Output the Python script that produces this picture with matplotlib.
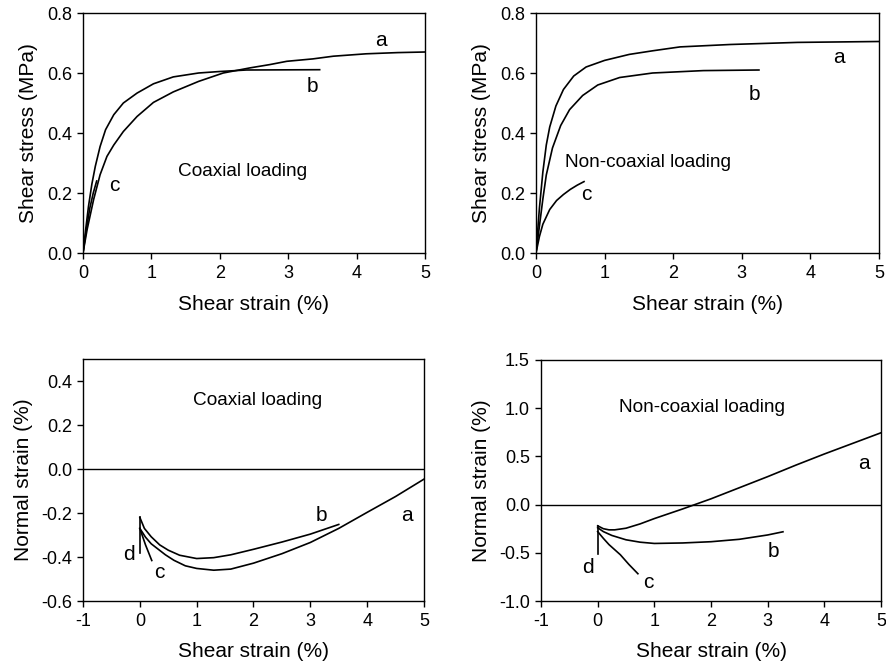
import matplotlib
matplotlib.use("Agg")
import matplotlib.pyplot as plt

plt.rcParams['font.family'] = ['Liberation Sans', 'DejaVu Sans']

# ---------------- Data ----------------
# Top-left: coaxial loading, shear stress (MPa) vs shear strain (%)
tl_a_x = [0, 0.06, 0.155, 0.25, 0.35, 0.45, 0.59, 0.79, 1.03, 1.32, 1.69, 2.05, 2.44, 2.73, 2.98, 3.36, 3.66, 4.14, 4.6, 5.0]
tl_a_y = [0, 0.078, 0.178, 0.261, 0.322, 0.36, 0.405, 0.455, 0.502, 0.537, 0.572, 0.60, 0.617, 0.628, 0.639, 0.647, 0.656, 0.664, 0.668, 0.67]
tl_b_x = [0, 0.04, 0.08, 0.13, 0.18, 0.25, 0.33, 0.45, 0.59, 0.79, 1.03, 1.32, 1.69, 2.0, 2.39, 3.46]
tl_b_y = [0, 0.08, 0.155, 0.23, 0.289, 0.355, 0.411, 0.461, 0.50, 0.533, 0.564, 0.587, 0.60, 0.605, 0.61, 0.611]
tl_c_x = [0, 0.05, 0.1, 0.15, 0.2]
tl_c_y = [0, 0.08, 0.15, 0.2, 0.24]

# Top-right: non-coaxial loading
tr_a_x = [0, 0.05, 0.1, 0.15, 0.2, 0.29, 0.4, 0.55, 0.73, 1.0, 1.36, 1.7, 2.1, 2.83, 3.81, 5.0]
tr_a_y = [0, 0.15, 0.27, 0.36, 0.42, 0.49, 0.545, 0.59, 0.62, 0.642, 0.662, 0.674, 0.687, 0.695, 0.702, 0.705]
tr_b_x = [0, 0.05, 0.1, 0.15, 0.24, 0.36, 0.49, 0.68, 0.9, 1.22, 1.7, 2.44, 3.25]
tr_b_y = [0, 0.09, 0.18, 0.26, 0.35, 0.425, 0.478, 0.525, 0.56, 0.585, 0.60, 0.608, 0.61]
tr_c_x = [0, 0.05, 0.1, 0.2, 0.3, 0.4, 0.5, 0.6, 0.7]
tr_c_y = [0, 0.055, 0.096, 0.145, 0.175, 0.195, 0.212, 0.226, 0.238]

# Bottom-left: coaxial loading, normal strain (%) vs shear strain (%)
bl_a_x = [0, 0.1, 0.2, 0.3, 0.45, 0.6, 0.8, 1.0, 1.3, 1.6, 2.0, 2.5, 3.0, 3.5, 4.0, 4.5, 5.0]
bl_a_y = [-0.27, -0.31, -0.34, -0.36, -0.39, -0.415, -0.44, -0.452, -0.46, -0.455, -0.428, -0.385, -0.334, -0.27, -0.197, -0.125, -0.046]
bl_b_x = [0, 0.08, 0.2, 0.35, 0.5, 0.7, 1.0, 1.3, 1.6, 2.0, 2.5, 3.0, 3.5]
bl_b_y = [-0.22, -0.27, -0.308, -0.345, -0.369, -0.392, -0.407, -0.403, -0.39, -0.365, -0.332, -0.296, -0.252]
bl_c_x = [0.0, 0.1, 0.21]
bl_c_y = [-0.27, -0.345, -0.416]
bl_d_x = [0, 0]
bl_d_y = [-0.217, -0.38]

# Bottom-right: non-coaxial loading
br_a_x = [0, 0.1, 0.2, 0.3, 0.5, 0.75, 1.0, 1.5, 2.0, 2.5, 3.0, 3.5, 4.0, 4.5, 5.0]
br_a_y = [-0.22, -0.25, -0.262, -0.262, -0.245, -0.2, -0.145, -0.045, 0.06, 0.175, 0.29, 0.41, 0.525, 0.635, 0.745]
br_b_x = [0, 0.1, 0.25, 0.5, 0.75, 1.0, 1.5, 2.0, 2.5, 3.0, 3.27]
br_b_y = [-0.24, -0.28, -0.32, -0.365, -0.39, -0.403, -0.398, -0.385, -0.36, -0.315, -0.282]
br_c_x = [0, 0.1, 0.2, 0.4, 0.55, 0.71]
br_c_y = [-0.28, -0.35, -0.415, -0.52, -0.62, -0.717]
br_d_x = [0, 0]
br_d_y = [-0.22, -0.51]

FS_TICK = 13
FS_LABEL = 15
FS_LET = 15
FS_TXT = 13.7

fig = plt.figure(figsize=(8.86, 6.67), dpi=100)

def setup(ax):
    for s in ax.spines.values():
        s.set_linewidth(1.0)
    ax.tick_params(direction='out', length=4, width=1, labelsize=FS_TICK,
                   top=False, right=False)
    ax.tick_params(axis='x', pad=5)
    ax.tick_params(axis='y', pad=4)

lw = 1.2
# Top-left
ax1 = fig.add_axes([83/886, 1-253/667, 342/886, 240/667])
ax1.plot(tl_a_x, tl_a_y, color='black', lw=lw)
ax1.plot(tl_b_x, tl_b_y, color='black', lw=lw)
ax1.plot(tl_c_x, tl_c_y, color='black', lw=lw)
ax1.set_xlim(0, 5); ax1.set_ylim(0, 0.8)
ax1.set_xticks([0, 1, 2, 3, 4, 5])
ax1.set_yticks([0, 0.2, 0.4, 0.6, 0.8])
ax1.set_yticklabels(['0.0', '0.2', '0.4', '0.6', '0.8'])
ax1.set_xlabel('Shear strain (%)', fontsize=FS_LABEL, labelpad=9)
ax1.set_ylabel('Shear stress (MPa)', fontsize=FS_LABEL, labelpad=6)
ax1.text(4.35, 0.708, 'a', fontsize=FS_LET, ha='center', va='center')
ax1.text(3.36, 0.554, 'b', fontsize=FS_LET, ha='center', va='center')
ax1.text(0.46, 0.224, 'c', fontsize=FS_LET, ha='center', va='center')
ax1.text(2.34, 0.27, 'Coaxial loading', fontsize=FS_TXT, ha='center', va='center')
setup(ax1)

# Top-right
ax2 = fig.add_axes([536/886, 1-253/667, 343/886, 240/667])
ax2.plot(tr_a_x, tr_a_y, color='black', lw=lw)
ax2.plot(tr_b_x, tr_b_y, color='black', lw=lw)
ax2.plot(tr_c_x, tr_c_y, color='black', lw=lw)
ax2.set_xlim(0, 5); ax2.set_ylim(0, 0.8)
ax2.set_xticks([0, 1, 2, 3, 4, 5])
ax2.set_yticks([0, 0.2, 0.4, 0.6, 0.8])
ax2.set_yticklabels(['0.0', '0.2', '0.4', '0.6', '0.8'])
ax2.set_xlabel('Shear strain (%)', fontsize=FS_LABEL, labelpad=9)
ax2.set_ylabel('Shear stress (MPa)', fontsize=FS_LABEL, labelpad=6)
ax2.text(4.41, 0.653, 'a', fontsize=FS_LET, ha='center', va='center')
ax2.text(3.19, 0.527, 'b', fontsize=FS_LET, ha='center', va='center')
ax2.text(0.73, 0.196, 'c', fontsize=FS_LET, ha='center', va='center')
ax2.text(1.63, 0.303, 'Non-coaxial loading', fontsize=FS_TXT, ha='center', va='center')
setup(ax2)

# Bottom-left
ax3 = fig.add_axes([83/886, 1-601/667, 341/886, 242/667])
ax3.axhline(0, color='black', lw=1.0)
ax3.plot(bl_a_x, bl_a_y, color='black', lw=lw)
ax3.plot(bl_b_x, bl_b_y, color='black', lw=lw)
ax3.plot(bl_c_x, bl_c_y, color='black', lw=lw)
ax3.plot(bl_d_x, bl_d_y, color='black', lw=lw)
ax3.set_xlim(-1, 5); ax3.set_ylim(-0.6, 0.5)
ax3.set_xticks([-1, 0, 1, 2, 3, 4, 5])
ax3.set_yticks([-0.6, -0.4, -0.2, 0.0, 0.2, 0.4])
ax3.set_yticklabels(['-0.6', '-0.4', '-0.2', '0.0', '0.2', '0.4'])
ax3.set_xticklabels(['-1', '0', '1', '2', '3', '4', '5'])
ax3.set_xlabel('Shear strain (%)', fontsize=FS_LABEL, labelpad=8)
ax3.set_ylabel('Normal strain (%)', fontsize=FS_LABEL, labelpad=6)
ax3.text(4.7, -0.21, 'a', fontsize=FS_LET, ha='center', va='center')
ax3.text(3.19, -0.21, 'b', fontsize=FS_LET, ha='center', va='center')
ax3.text(0.35, -0.47, 'c', fontsize=FS_LET, ha='center', va='center')
ax3.text(-0.2, -0.39, 'd', fontsize=FS_LET, ha='center', va='center')
ax3.text(2.07, 0.311, 'Coaxial loading', fontsize=FS_TXT, ha='center', va='center')
setup(ax3)

# Bottom-right
ax4 = fig.add_axes([541/886, 1-601/667, 340/886, 241/667])
ax4.axhline(0, color='black', lw=1.0)
ax4.plot(br_a_x, br_a_y, color='black', lw=lw)
ax4.plot(br_b_x, br_b_y, color='black', lw=lw)
ax4.plot(br_c_x, br_c_y, color='black', lw=lw)
ax4.plot(br_d_x, br_d_y, color='black', lw=lw)
ax4.set_xlim(-1, 5); ax4.set_ylim(-1.0, 1.5)
ax4.set_xticks([-1, 0, 1, 2, 3, 4, 5])
ax4.set_yticks([-1.0, -0.5, 0.0, 0.5, 1.0, 1.5])
ax4.set_yticklabels(['-1.0', '-0.5', '0.0', '0.5', '1.0', '1.5'])
ax4.set_xticklabels(['-1', '0', '1', '2', '3', '4', '5'])
ax4.set_xlabel('Shear strain (%)', fontsize=FS_LABEL, labelpad=8)
ax4.set_ylabel('Normal strain (%)', fontsize=FS_LABEL, labelpad=6)
ax4.text(4.7, 0.43, 'a', fontsize=FS_LET, ha='center', va='center')
ax4.text(3.11, -0.49, 'b', fontsize=FS_LET, ha='center', va='center')
ax4.text(0.89, -0.81, 'c', fontsize=FS_LET, ha='center', va='center')
ax4.text(-0.18, -0.65, 'd', fontsize=FS_LET, ha='center', va='center')
ax4.text(1.84, 1.005, 'Non-coaxial loading', fontsize=FS_TXT, ha='center', va='center')
setup(ax4)

fig.savefig('out.png', dpi=100)
